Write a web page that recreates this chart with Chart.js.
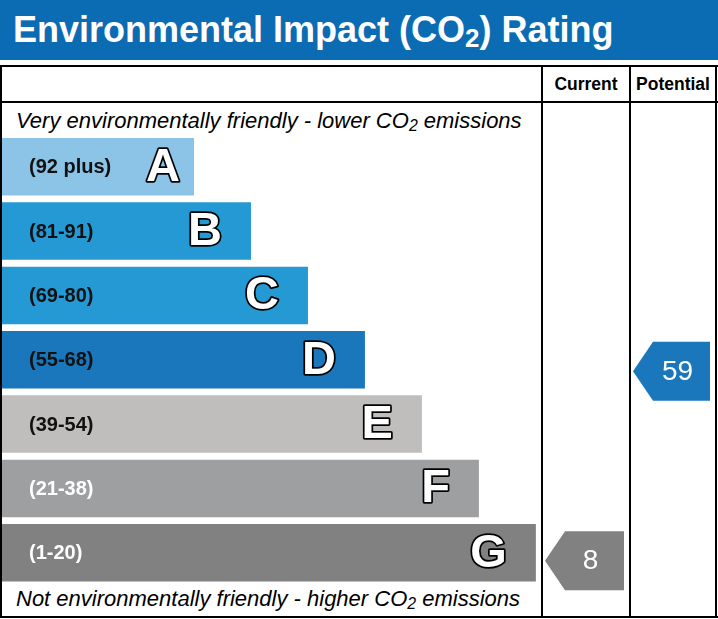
<!DOCTYPE html>
<html>
<head>
<meta charset="utf-8">
<title>Environmental Impact (CO2) Rating</title>
<script src="https://cdn.jsdelivr.net/npm/chart.js@4.4.0/dist/chart.umd.min.js"></script>
<style>
  html, body { margin: 0; padding: 0; background: #fff; }
  #page { position: relative; width: 718px; height: 619px; overflow: hidden; font-family: "Liberation Sans", Arial, sans-serif; }
  #title { position: absolute; left: 0; top: 0; width: 718px; height: 60px; box-sizing: border-box; padding-left: 13px;
           background: #0b6bb3; color: #fff; font-weight: bold; font-size: 36px; line-height: 60px; white-space: nowrap; }
  sub { font-size: 72%; vertical-align: -0.18em; line-height: 0; }
  .line { position: absolute; background: #000; }
  .head { position: absolute; top: 67px; height: 34px; line-height: 34px; text-align: center; font-weight: bold; font-size: 17.5px; }
  .caption { position: absolute; left: 16px; font-style: italic; font-size: 22px; line-height: 22px; white-space: nowrap; }
  #chart { position: absolute; left: 0; top: 0; z-index: 2; }
</style>
</head>
<body>
<div id="page">
  <div id="title">Environmental Impact (CO<sub>2</sub>) Rating</div>

  <div class="line" style="left:0; top:65px; width:718px; height:2px"></div>
  <div class="line" style="left:0; top:101px; width:718px; height:2px"></div>
  <div class="line" style="left:0; top:616px; width:718px; height:2px"></div>
  <div class="line" style="left:0; top:65px; width:2px; height:553px"></div>
  <div class="line" style="left:541px; top:65px; width:2px; height:553px"></div>
  <div class="line" style="left:629px; top:65px; width:2px; height:553px"></div>
  <div class="line" style="left:715px; top:65px; width:2px; height:553px"></div>

  <div class="head" style="left:543px; width:86px">Current</div>
  <div class="head" style="left:631px; width:84px">Potential</div>

  <div class="caption" style="top:110px">Very environmentally friendly - lower CO<sub>2</sub> emissions</div>
  <div class="caption" style="top:588px">Not environmentally friendly - higher CO<sub>2</sub> emissions</div>

  <canvas id="chart" width="718" height="619"></canvas>
</div>

<script>
"use strict"

// Bands, top to bottom
const bands = ['A', 'B', 'C', 'D', 'E', 'F', 'G'];
const bandRanges = ['(92 plus)', '(81-91)', '(69-80)', '(55-68)', '(39-54)', '(21-38)', '(1-20)'];
const bandLow = [92, 81, 69, 55, 39, 21, 1];
const bandHigh = [100, 91, 80, 68, 54, 38, 20];
const bandSteps = [1, 2, 3, 4, 5, 6, 7];

// Ratings shown in the arrows
const currentRating = 8;
const potentialRating = 59;

// Styles
const bandColors = ['#8bc4e7', '#2599d3', '#2599d3', '#1a77bc', '#bfbebc', '#9e9fa1', '#818181'];
const rangeColors = ['#111', '#111', '#111', '#111', '#111', '#fff', '#fff'];
const barBase = -2.37;
const columns = {
    current: { left: 543, right: 629 },
    potential: { left: 631, right: 715 }
};

//Finding the band of a rating and where inside it the rating sits
function ratingPosition(value) {
    let i = bandLow.findIndex(low => value >= low);
    if (i < 0) i = bands.length - 1;
    const f = (bandHigh[i] + 0.5 - value) / (bandHigh[i] - bandLow[i] + 1);
    return { index: i, pos: i - 0.5 + f };
}

function drawArrow(ctx, col, y, color, text) {
    const tip = col.left + 2;
    const right = col.right - 5;
    const notch = 20;
    const half = 29.5;

    ctx.save();
    ctx.fillStyle = color;
    ctx.beginPath();
    ctx.moveTo(tip, y);
    ctx.lineTo(tip + notch, y - half);
    ctx.lineTo(right, y - half);
    ctx.lineTo(right, y + half);
    ctx.lineTo(tip + notch, y + half);
    ctx.closePath();
    ctx.fill();

    ctx.fillStyle = '#fff';
    ctx.font = '28px "Liberation Sans", Arial, sans-serif';
    ctx.textAlign = 'center';
    ctx.textBaseline = 'middle';
    ctx.fillText(text, (tip + right) / 2 + 6, y + 1);
    ctx.restore();
}

//Range labels, band letters and rating arrows
const ratingMarks = {
    id: 'ratingMarks',
    afterDatasetsDraw(chart) {
        const ctx = chart.ctx;
        const meta = chart.getDatasetMeta(0);

        ctx.save();
        meta.data.forEach((bar, i) => {
            ctx.font = 'bold 20px "Liberation Sans", Arial, sans-serif';
            ctx.fillStyle = rangeColors[i];
            ctx.textAlign = 'left';
            ctx.textBaseline = 'middle';
            ctx.fillText(bandRanges[i], chart.chartArea.left + 27, bar.y + 1);

            ctx.font = 'bold 47px "Liberation Sans", Arial, sans-serif';
            ctx.textAlign = 'right';
            ctx.lineJoin = 'round';
            ctx.lineWidth = 3.5;
            ctx.strokeStyle = '#000';
            const lx = bar.x - (i === 0 ? 14 : 29);
            ctx.strokeText(bands[i], lx, bar.y + 1);
            ctx.fillStyle = '#fff';
            ctx.fillText(bands[i], lx, bar.y + 1);
        });
        ctx.restore();

        const yScale = chart.scales.y;
        const cur = ratingPosition(currentRating);
        const pot = ratingPosition(potentialRating);
        drawArrow(ctx, columns.current, yScale.getPixelForValue(cur.pos), bandColors[cur.index], String(currentRating));
        drawArrow(ctx, columns.potential, yScale.getPixelForValue(pot.pos), bandColors[pot.index], String(potentialRating));
    }
};

new Chart(document.getElementById('chart'), {
    type: 'bar',
    data: {
        labels: bands,
        datasets: [{
            data: bandSteps,
            base: barBase,
            backgroundColor: bandColors,
            borderWidth: 0,
            barPercentage: 0.894,
            categoryPercentage: 1
        }]
    },
    options: {
        indexAxis: 'y',
        responsive: false,
        animation: false,
        layout: { padding: { left: 2, right: 177, top: 134.6, bottom: 34.1 } },
        scales: {
            x: { type: 'linear', min: barBase, max: 7.09, display: false },
            y: { display: false }
        },
        plugins: {
            legend: { display: false },
            tooltip: { enabled: false }
        }
    },
    plugins: [ratingMarks]
});
</script>
</body>
</html>
